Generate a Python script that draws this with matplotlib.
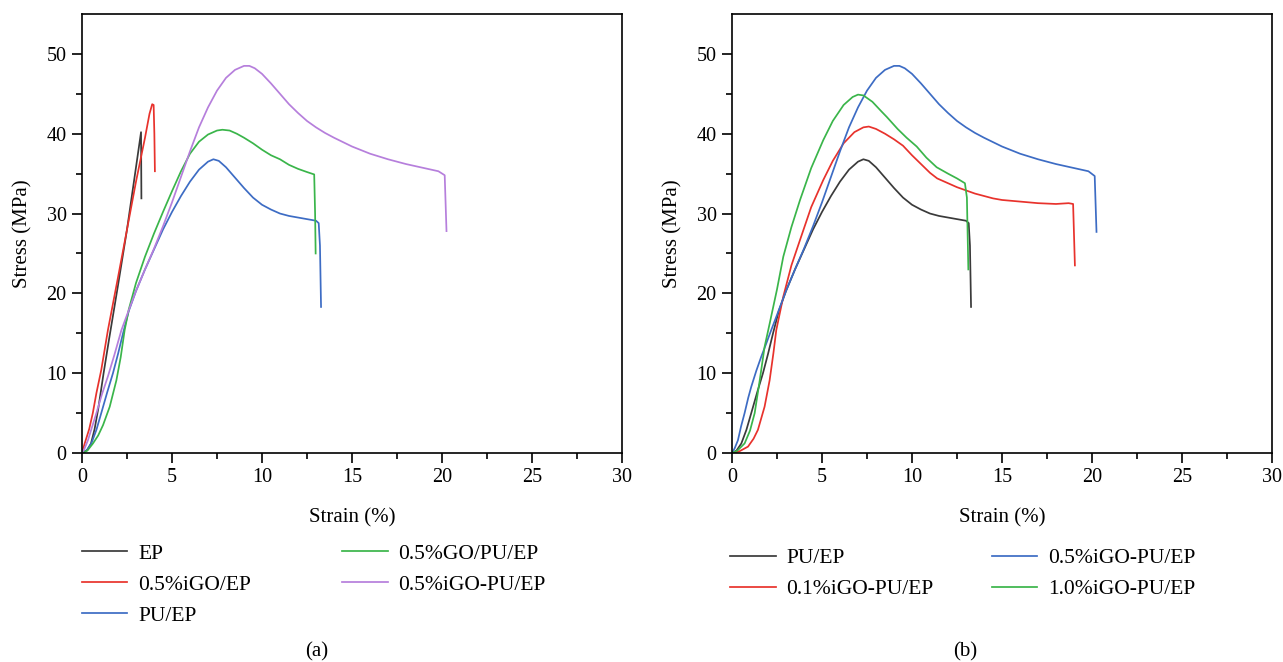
import matplotlib
matplotlib.use('Agg')
import matplotlib.pyplot as plt

plt.rcParams['font.family'] = ['Liberation Serif', 'DejaVu Serif']

# --- panel (a) ---
ep_x = [0, 0.3, 0.5, 0.7, 0.9, 1.2, 1.5, 2.0, 2.5, 3.0, 3.28, 3.3]
ep_y = [0, 0.4, 1.2, 3.0, 5.5, 10.0, 14.2, 21.0, 28.0, 35.8, 40.2, 31.9]

igo_ep_x = [0, 0.15, 0.4, 0.6, 0.8, 1.07, 1.44, 2.0, 2.5, 3.0, 3.5, 3.75, 3.9, 3.98, 4.02, 4.05]
igo_ep_y = [0, 1.2, 3.0, 5.0, 7.5, 10.4, 15.4, 22.0, 28.0, 34.0, 39.5, 42.5, 43.7, 43.6, 40.0, 35.3]

pu_ep_x = [0, 0.25, 0.52, 0.8, 1.07, 1.4, 1.72, 2.0, 2.28, 2.6, 3.0, 3.5, 4.0, 4.5, 5.0,
           5.5, 6.0, 6.5, 7.0, 7.3, 7.6, 8.0, 8.5, 9.0, 9.5, 10.0, 10.5, 11.0, 11.5,
           12.0, 12.5, 13.0, 13.15, 13.22, 13.28]
pu_ep_y = [0, 0.3, 1.2, 2.9, 5.0, 7.6, 10.0, 12.4, 15.0, 17.8, 20.3, 23.0, 25.5, 28.0, 30.2,
           32.2, 34.0, 35.5, 36.5, 36.8, 36.6, 35.8, 34.5, 33.2, 32.0, 31.1, 30.5, 30.0, 29.7,
           29.5, 29.3, 29.1, 28.8, 26.0, 18.3]

go_pu_x = [0, 0.3, 0.61, 0.9, 1.17, 1.54, 1.91, 2.15, 2.37, 2.6, 3.0, 3.5, 4.0, 4.5, 5.0,
           5.5, 6.0, 6.5, 7.0, 7.5, 7.8, 8.2, 8.6, 9.0, 9.5, 10.0, 10.5, 11.0, 11.5, 12.0,
           12.5, 12.9, 12.95, 12.98]
go_pu_y = [0, 0.3, 1.2, 2.2, 3.5, 5.8, 9.1, 12.0, 15.4, 18.0, 21.3, 24.6, 27.5, 30.2, 32.8,
           35.3, 37.5, 39.0, 39.9, 40.4, 40.5, 40.4, 40.0, 39.5, 38.8, 38.0, 37.3, 36.8, 36.1, 35.6,
           35.2, 34.9, 30.0, 25.0]

igo_pu_x = [0, 0.15, 0.33, 0.55, 0.8, 1.1, 1.44, 1.8, 2.19, 2.5, 3.0, 3.5, 4.0, 4.5, 5.0,
            5.5, 6.0, 6.5, 7.0, 7.5, 8.0, 8.5, 9.0, 9.3, 9.6, 10.0, 10.5, 11.0, 11.5, 12.0,
            12.5, 13.0, 13.5, 14.0, 15.0, 16.0, 17.0, 18.0, 19.0, 19.8, 20.15, 20.25]
igo_pu_y = [0, 0.6, 1.6, 3.2, 5.0, 7.3, 9.6, 12.3, 15.4, 17.3, 20.3, 23.0, 25.6, 28.4, 31.4,
            34.6, 37.8, 40.8, 43.3, 45.4, 47.0, 48.0, 48.5, 48.5, 48.2, 47.5, 46.3, 45.0, 43.7, 42.6,
            41.6, 40.8, 40.1, 39.5, 38.4, 37.5, 36.8, 36.2, 35.7, 35.3, 34.8, 27.8]

# --- panel (b) ---
igo01_x = [0, 0.4, 0.89, 1.2, 1.44, 1.81, 2.09, 2.3, 2.46, 2.85, 3.3, 3.78, 4.4, 5.07, 5.6,
           6.2, 6.8, 7.3, 7.6, 8.0, 8.5, 9.0, 9.5, 10.0, 10.5, 11.0, 11.4, 12.0, 12.5, 13.0,
           13.5, 14.0, 14.5, 15.0, 16.0, 17.0, 18.0, 18.7, 18.95, 19.05]
igo01_y = [0, 0.2, 0.8, 1.8, 2.9, 5.8, 9.1, 12.5, 15.4, 19.6, 23.5, 26.7, 30.8, 34.2, 36.6,
           38.8, 40.2, 40.8, 40.9, 40.6, 40.0, 39.3, 38.5, 37.3, 36.2, 35.1, 34.4, 33.8, 33.3, 32.9,
           32.5, 32.2, 31.9, 31.7, 31.5, 31.3, 31.2, 31.3, 31.2, 23.5]

igo05_x = [0, 0.15, 0.33, 0.5, 0.7, 0.9, 1.07, 1.35, 1.63, 1.9, 2.18, 2.5, 3.0, 3.5, 4.0,
           4.5, 5.0, 5.5, 6.0, 6.5, 7.0, 7.5, 8.0, 8.5, 9.0, 9.3, 9.6, 10.0, 10.5, 11.0,
           11.5, 12.0, 12.5, 13.0, 13.5, 14.0, 15.0, 16.0, 17.0, 18.0, 19.0, 19.8, 20.15, 20.25]
igo05_y = [0, 0.6, 1.6, 3.3, 5.0, 6.9, 8.3, 10.3, 12.1, 13.7, 15.4, 17.3, 20.3, 23.0, 25.6,
           28.4, 31.4, 34.6, 37.8, 40.8, 43.3, 45.4, 47.0, 48.0, 48.5, 48.5, 48.2, 47.5, 46.3, 45.0,
           43.7, 42.6, 41.6, 40.8, 40.1, 39.5, 38.4, 37.5, 36.8, 36.2, 35.7, 35.3, 34.7, 27.7]

igo10_x = [0, 0.3, 0.7, 1.0, 1.26, 1.54, 1.81, 2.1, 2.5, 2.85, 3.3, 3.78, 4.4, 5.07, 5.6,
           6.2, 6.7, 7.0, 7.3, 7.8, 8.3, 8.6, 9.2, 9.7, 10.26, 10.8, 11.37, 12.0, 12.5, 12.94,
           13.05, 13.13]
igo10_y = [0, 0.3, 1.2, 2.8, 5.0, 9.1, 13.3, 16.3, 20.5, 24.6, 28.3, 31.7, 35.7, 39.2, 41.6,
           43.6, 44.6, 44.9, 44.8, 44.0, 42.8, 42.1, 40.6, 39.5, 38.4, 37.0, 35.8, 35.0, 34.4, 33.8,
           32.0, 23.0]

c_black = '#3a3a3a'
c_red = '#e8322c'
c_blue = '#3d6cc4'
c_green = '#3ab54a'
c_purple = '#b67fdc'

fig = plt.figure(figsize=(12.83, 6.62), dpi=100)
W, H = 1283, 662
ax1 = fig.add_axes([82 / W, 1 - 453 / H, 540 / W, 439 / H])
ax2 = fig.add_axes([732 / W, 1 - 453 / H, 540 / W, 439 / H])

lw = 1.25
ax1.plot(ep_x, ep_y, color=c_black, lw=lw, label='EP')
ax1.plot(igo_ep_x, igo_ep_y, color=c_red, lw=lw, label='0.5%iGO/EP')
ax1.plot(pu_ep_x, pu_ep_y, color=c_blue, lw=lw, label='PU/EP')
ax1.plot(go_pu_x, go_pu_y, color=c_green, lw=lw, label='0.5%GO/PU/EP')
ax1.plot(igo_pu_x, igo_pu_y, color=c_purple, lw=lw, label='0.5%iGO-PU/EP')

ax2.plot(pu_ep_x, pu_ep_y, color=c_black, lw=lw, label='PU/EP')
ax2.plot(igo01_x, igo01_y, color=c_red, lw=lw, label='0.1%iGO-PU/EP')
ax2.plot(igo05_x, igo05_y, color=c_blue, lw=lw, label='0.5%iGO-PU/EP')
ax2.plot(igo10_x, igo10_y, color=c_green, lw=lw, label='1.0%iGO-PU/EP')

for ax in (ax1, ax2):
    ax.set_xlim(0, 30)
    ax.set_ylim(0, 55)
    ax.set_xticks(range(0, 31, 5))
    ax.set_xticks([2.5, 7.5, 12.5, 17.5, 22.5, 27.5], minor=True)
    ax.set_yticks(range(0, 51, 10))
    ax.set_yticks([5, 15, 25, 35, 45], minor=True)
    ax.tick_params(direction='out', length=7, width=1.2, labelsize=14.5, pad=4,
                   top=False, right=False)
    ax.tick_params(which='minor', direction='out', length=4, width=1.2, top=False, right=False)
    for s in ax.spines.values():
        s.set_linewidth(1.2)
    ax.set_xlabel('Strain (%)', fontsize=15, labelpad=15)
    ax.set_ylabel('Stress (MPa)', fontsize=15, labelpad=10)

leg_kw = dict(loc='upper left', ncol=2, frameon=False, fontsize=15.5, borderpad=0,
              borderaxespad=0, handlelength=2.1, handletextpad=0.5, labelspacing=0.5)
ax1.legend(bbox_to_anchor=(0, -0.207), columnspacing=4.25, **leg_kw)
ax2.legend(bbox_to_anchor=(-0.003, -0.217), columnspacing=2.7, **leg_kw)

fig.text(317 / W, 1 - 652 / H, '(a)', ha='center', va='center', fontsize=15)
fig.text(965 / W, 1 - 652 / H, '(b)', ha='center', va='center', fontsize=15)

fig.savefig('out.png', dpi=100)
